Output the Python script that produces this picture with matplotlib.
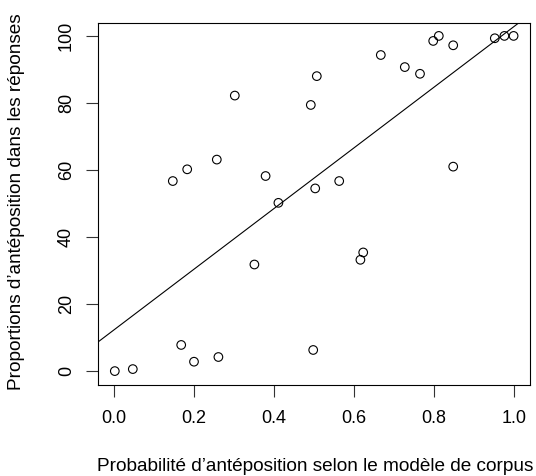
import matplotlib
matplotlib.use("Agg")
import matplotlib.pyplot as plt

plt.rcParams['font.family'] = ['Liberation Sans', 'DejaVu Sans']

# Data
prob_corpus = [0.952, 0.976, 0.999, 0.798, 0.812, 0.848, 0.667, 0.727, 0.765,
               0.507, 0.302, 0.492, 0.257, 0.183, 0.147, 0.379, 0.503, 0.563,
               0.848, 0.411, 0.351, 0.623, 0.616, 0.168, 0.200, 0.261, 0.498,
               0.002, 0.047]
prop_responses = [99.3, 100.0, 100.0, 98.5, 100.0, 97.2, 94.3, 90.7, 88.7,
                  88.0, 82.2, 79.4, 63.1, 60.2, 56.7, 58.2, 54.5, 56.7,
                  61.0, 50.2, 31.8, 35.4, 33.2, 7.8, 2.8, 4.2, 6.3,
                  0.0, 0.6]
fit_intercept = 12.3
fit_slope = 90.5

x_ticks = [0.0, 0.2, 0.4, 0.6, 0.8, 1.0]
x_tick_labels = ["0.0", "0.2", "0.4", "0.6", "0.8", "1.0"]
y_ticks = [0, 20, 40, 60, 80, 100]
y_tick_labels = ["0", "20", "40", "60", "80", "100"]
x_label = "Probabilité d\u2019antéposition selon le modèle de corpus"
y_label = "Proportions d\u2019antéposition dans les réponses"

W, H = 536, 476
fig = plt.figure(figsize=(W / 100, H / 100), dpi=100)
left, right, top, bottom = 98, 530, 22.5, 384.5
ax = fig.add_axes([left / W, 1 - bottom / H, (right - left) / W, (bottom - top) / H])

ax.scatter(prob_corpus, prop_responses, s=(6.2) ** 2, facecolors='none',
           edgecolors='black', linewidths=0.8, zorder=3)
ax.axline((0, fit_intercept), slope=fit_slope, color='black', linewidth=0.8)

ax.set_xlim(-0.04, 1.04)
ax.set_ylim(-4, 104)
ax.set_xticks(x_ticks)
ax.set_xticklabels(x_tick_labels)
ax.set_yticks(y_ticks)
ax.set_yticklabels(y_tick_labels, rotation=90, va='center')

for sp in ax.spines.values():
    sp.set_linewidth(0.8)
    sp.set_color('black')

ax.tick_params(axis='both', direction='out', length=8.6, width=0.8,
               color='#333333', labelsize=13)
ax.tick_params(axis='x', pad=10)
ax.tick_params(axis='y', pad=8)

fig.text(315 / W, 1 - 471 / H, x_label, ha='center', va='baseline', fontsize=13.7)
fig.text(16.5 / W, 1 - 202 / H, y_label, ha='center', va='center',
         rotation=90, fontsize=13.7)

fig.savefig("out.png", dpi=100)
